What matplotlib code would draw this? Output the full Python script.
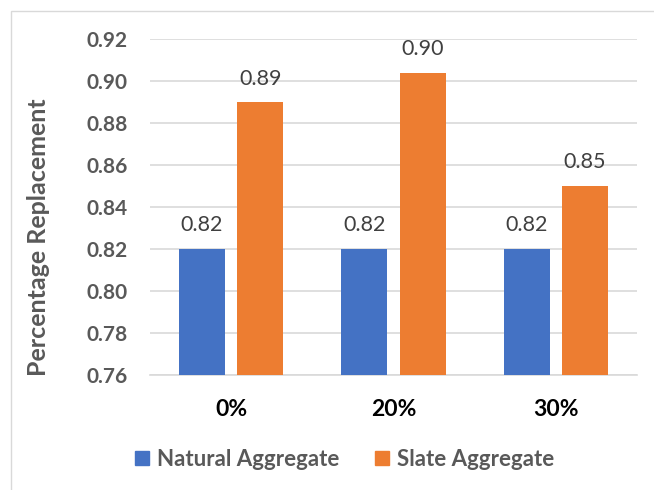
import numpy as np
import matplotlib
matplotlib.use("Agg")
import matplotlib.pyplot as plt
from matplotlib.patches import Rectangle

plt.rcParams["font.family"] = ["Lato", "DejaVu Sans"]

categories = ["0%", "20%", "30%"]
natural = [0.82, 0.82, 0.82]
slate = [0.89, 0.904, 0.85]
y_ticks = [0.76, 0.78, 0.80, 0.82, 0.84, 0.86, 0.88, 0.90, 0.92]

blue = "#4472C4"
orange = "#ED7D31"
grid_c = "#D9D9D9"
text_grey = "#595959"

fig = plt.figure(figsize=(6.54, 4.9), dpi=100)
ax = fig.add_axes([0.2294, 0.2347, 0.7446, 0.6847])

x = np.arange(len(categories))
w = 0.283
off = 0.18
b1 = ax.bar(x - off, natural, w, color=blue, zorder=3)
b2 = ax.bar(x + off, slate, w, color=orange, zorder=3)

for bars, vals in ((b1, natural), (b2, slate)):
    for bar, v in zip(bars, vals):
        ax.annotate(f"{v:.2f}", (bar.get_x() + bar.get_width() / 2, v),
                    xytext=(0, 10), textcoords="offset points",
                    ha="center", va="bottom", fontsize=15.5, color="#404040")

ax.set_xlim(-0.5, 2.5)
ax.set_ylim(0.76, 0.92)
ax.set_yticks(y_ticks)
ax.set_yticklabels([f"{t:.2f}" for t in y_ticks], fontsize=15,
                   fontweight="bold", color=text_grey)
ax.set_xticks(x)
ax.set_xticklabels(categories, fontsize=16.5, fontweight="bold", color="black")
ax.tick_params(axis="y", length=0, pad=16)
ax.tick_params(axis="x", length=0, pad=17)

ax.grid(axis="y", color=grid_c, linewidth=1.2, zorder=0)
for s in ["top", "right", "left"]:
    ax.spines[s].set_visible(False)
ax.spines["bottom"].set_color(grid_c)
ax.spines["bottom"].set_linewidth(1.2)

ax.set_ylabel("Percentage Replacement", fontsize=18, fontweight="bold",
              color=text_grey)
ax.yaxis.set_label_coords(-0.205, 0.41)

handles = [Rectangle((0, 0), 1, 1, color=blue), Rectangle((0, 0), 1, 1, color=orange)]
fig.legend(handles, ["Natural Aggregate", "Slate Aggregate"], loc="center",
           bbox_to_anchor=(0.527, 0.063), ncol=2, frameon=False,
           handlelength=0.62, handleheight=0.62, handletextpad=0.36,
           columnspacing=1.6, prop={"size": 16, "weight": "bold"},
           labelcolor=text_grey)

# thin chart border
fig.patches.append(Rectangle((0.0168, -0.01), 1.1, 0.988, transform=fig.transFigure,
                             fill=False, edgecolor=grid_c, linewidth=1.0))

fig.savefig("out.png", dpi=100)
